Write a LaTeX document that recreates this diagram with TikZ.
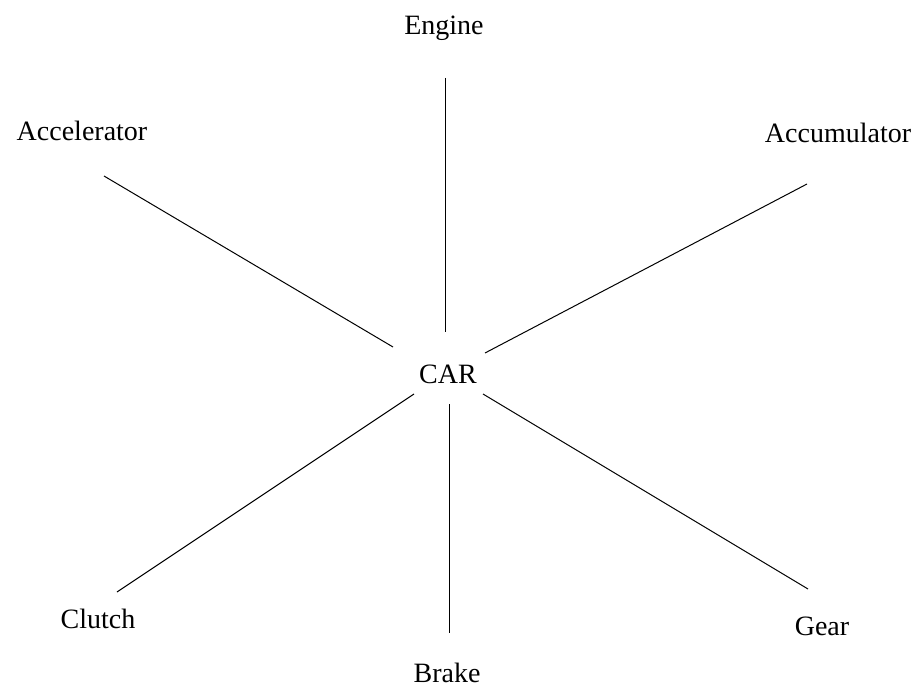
\documentclass[tikz,border=0pt]{standalone}
\usepackage{fontspec}
\setmainfont{Liberation Serif}
\begin{document}
\begin{tikzpicture}[x=1pt,y=-1pt,
  lbl/.style={anchor=base,inner sep=0pt,font=\fontsize{28}{32}\selectfont},
  spoke/.style={draw=black,line width=1pt}]
\useasboundingbox[fill=white] (0,0) rectangle (916,687);
% labels
\node[lbl] (car)   at (448,383) {CAR};
\node[lbl] (engine) at (444,35) {Engine};
\node[lbl] (accel) at (82,141) {Accelerator};
\node[lbl] (accum) at (838,143) {Accumulator};
\node[lbl] (clutch) at (98,628) {Clutch};
\node[lbl] (brake) at (447,682) {Brake};
\node[lbl] (gear)  at (822,635) {Gear};
% spoke end points
\coordinate (e1) at (445.5,78);  \coordinate (e2) at (445.5,332);
\coordinate (a1) at (104,176);   \coordinate (a2) at (393,347);
\coordinate (m1) at (807,184);   \coordinate (m2) at (485,353);
\coordinate (c1) at (414,394);   \coordinate (c2) at (117,592);
\coordinate (b1) at (449.5,404); \coordinate (b2) at (449.5,633);
\coordinate (g1) at (483,394);   \coordinate (g2) at (808,589);
\draw[spoke] (e1) -- (e2);
\draw[spoke] (a1) -- (a2);
\draw[spoke] (m1) -- (m2);
\draw[spoke] (c1) -- (c2);
\draw[spoke] (b1) -- (b2);
\draw[spoke] (g1) -- (g2);
\end{tikzpicture}
\end{document}
